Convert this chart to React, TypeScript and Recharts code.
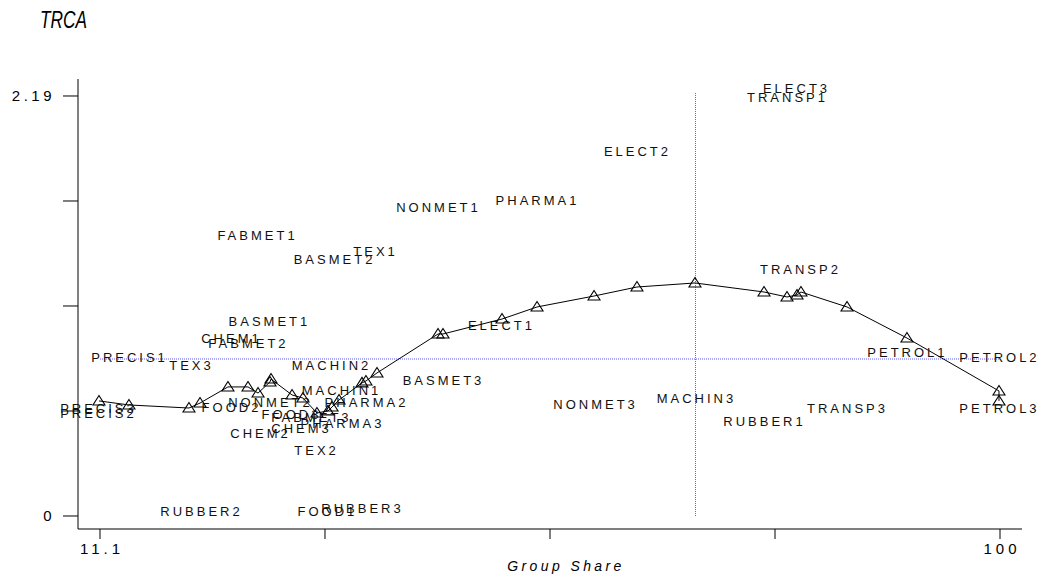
import React from 'react';
import { ScatterChart, Scatter, XAxis, YAxis, ReferenceLine, Label } from 'recharts';

// Curve (fitted line with triangle markers)
const curveX = [11.0, 13.96, 19.89, 20.98, 23.74, 25.72, 26.71, 27.89, 27.99, 30.07, 31.15, 32.53, 33.62, 34.02, 34.71, 36.98, 37.37, 38.46, 44.49, 44.98, 50.81, 54.27, 59.9, 64.14, 69.87, 76.69, 78.96, 79.95, 80.34, 84.89, 90.81, 99.9, 99.9];
const curveY = [0.6, 0.579, 0.563, 0.589, 0.673, 0.673, 0.641, 0.699, 0.714, 0.631, 0.615, 0.537, 0.548, 0.568, 0.605, 0.694, 0.704, 0.746, 0.949, 0.949, 1.027, 1.09, 1.147, 1.194, 1.215, 1.168, 1.142, 1.152, 1.168, 1.09, 0.928, 0.652, 0.6];

// Point labels
const labelNames = ['PRECIS1', 'TEX3', 'CHEM1', 'FABMET2', 'BASMET1', 'FABMET1', 'BASMET2', 'TEX1', 'NONMET1', 'PHARMA1', 'ELECT2', 'ELECT3', 'TRANSP1', 'TRANSP2', 'ELECT1', 'MACHIN2', 'BASMET3', 'MACHIN1', 'NONMET2', 'PHARMA2', 'FOOD2', 'PRECIS3', 'PRECIS2', 'FOOD3', 'FABMET3', 'PHARMA3', 'CHEM3', 'CHEM2', 'TEX2', 'NONMET3', 'MACHIN3', 'RUBBER1', 'TRANSP3', 'PETROL1', 'PETROL2', 'PETROL3', 'RUBBER2', 'FOOD1', 'RUBBER3'];
const labelX = [13.87, 19.99, 23.94, 25.62, 27.69, 26.51, 34.12, 38.17, 44.39, 54.17, 64.04, 79.75, 78.86, 80.14, 50.61, 33.82, 44.88, 34.81, 27.79, 37.28, 23.94, 10.8, 10.8, 29.87, 31.84, 34.91, 30.86, 26.81, 32.34, 59.9, 69.87, 76.59, 84.79, 90.71, 99.8, 99.8, 20.98, 33.42, 36.88];
const labelY = [0.829, 0.787, 0.928, 0.897, 1.012, 1.46, 1.34, 1.377, 1.611, 1.643, 1.898, 2.227, 2.18, 1.283, 0.991, 0.787, 0.709, 0.652, 0.594, 0.594, 0.568, 0.563, 0.537, 0.527, 0.511, 0.48, 0.454, 0.428, 0.344, 0.579, 0.615, 0.495, 0.563, 0.855, 0.829, 0.558, 0.026, 0.026, 0.037];

// Axes
const xTicks = [11.1, 33.325, 55.55, 77.775, 100];
const xTickLabels = ['11.1', '', '', '', '100'];
const yTicks = [0, 0.5475, 1.095, 1.6425, 2.19];
const yTickLabels = ['0', '', '', '', '2.19'];

// Reference cross
const refX = 69.92;
const refY = 0.8186;

const curveData = curveX.map((x, i) => ({ x, y: curveY[i] }));
const labelData = labelNames.map((name, i) => ({ name, x: labelX[i], y: labelY[i] }));

const FONT = "'Liberation Sans', Arial, Helvetica, sans-serif";

const Triangle = (props: any) => {
  const { cx, cy } = props;
  if (cx == null || cy == null) return null;
  const d = `M${cx},${cy - 5.5} L${cx + 6},${cy + 4} L${cx - 6},${cy + 4} Z`;
  return <path d={d} fill="none" stroke="#000" strokeWidth={1.1} />;
};

const PointLabel = (props: any) => {
  const { cx, cy, payload } = props;
  if (cx == null || cy == null) return null;
  return (
    <text
      x={cx}
      y={cy}
      dx={1.5}
      textAnchor="middle"
      dominantBaseline="central"
      fontFamily={FONT}
      fontSize={13}
      letterSpacing={3}
      fill="#111"
    >
      {payload.name}
    </text>
  );
};

const YTick = (props: any) => {
  const { x, y, payload } = props;
  const idx = yTicks.indexOf(payload.value);
  const txt = idx >= 0 ? yTickLabels[idx] : '';
  return (
    <text x={x + 4} y={y} textAnchor="end" dominantBaseline="central" fontFamily={FONT} fontSize={15} letterSpacing={3.5} fill="#000">
      {txt}
    </text>
  );
};

const XTick = (props: any) => {
  const { x, y, payload } = props;
  const idx = xTicks.indexOf(payload.value);
  const txt = idx >= 0 ? xTickLabels[idx] : '';
  return (
    <text x={x + 2} y={y} dy="0.72em" textAnchor="middle" fontFamily={FONT} fontSize={15} letterSpacing={4} fill="#000">
      {txt}
    </text>
  );
};

const AxisTitle = (props: any) => {
  const vb = props.viewBox || {};
  const cx = (vb.x || 0) + (vb.width || 0) / 2 + 16;
  const y = (vb.y || 0) + (vb.height || 0) - 10;
  return (
    <text x={cx} y={y} textAnchor="middle" fontFamily={FONT} fontStyle="italic" fontSize={14} letterSpacing={3.4} fill="#000">
      Group Share
    </text>
  );
};

export default function App() {
  return (
    <div style={{ position: 'absolute', left: 0, top: 0, width: 1040, height: 581, background: '#fff' }}>
      <div
        style={{
          position: 'absolute',
          left: 40,
          top: 8,
          fontFamily: FONT,
          fontStyle: 'italic',
          fontSize: 24,
          lineHeight: '24px',
          transform: 'scaleX(0.72)',
          transformOrigin: 'left top',
          color: '#000',
          whiteSpace: 'nowrap',
        }}
      >
        TRCA
      </div>
      <ScatterChart width={1040} height={581} margin={{ top: 79, right: 18, bottom: 0, left: 0 }}>
        <XAxis
          type="number"
          dataKey="x"
          domain={[8.927, 102.173]}
          ticks={xTicks}
          height={52}
          tickSize={10}
          tickMargin={4}
          tick={<XTick />}
          axisLine={{ stroke: '#000', strokeWidth: 1 }}
          tickLine={{ stroke: '#000', strokeWidth: 1 }}
        >
          <Label content={<AxisTitle />} />
        </XAxis>
        <YAxis
          type="number"
          dataKey="y"
          domain={[-0.06779, 2.2786]}
          ticks={yTicks}
          width={78}
          tickSize={15}
          tickMargin={12}
          tick={<YTick />}
          axisLine={{ stroke: '#000', strokeWidth: 1 }}
          tickLine={{ stroke: '#000', strokeWidth: 1 }}
        />
        <ReferenceLine
          segment={[{ x: 11.1, y: refY }, { x: 100, y: refY }]}
          stroke="#5a5aff"
          strokeDasharray="1 1"
          strokeWidth={1}
        />
        <ReferenceLine
          segment={[{ x: refX, y: 0 }, { x: refX, y: 2.2109 }]}
          stroke="#5a5aff"
          strokeDasharray="1 1"
          strokeWidth={1}
        />
        <Scatter
          data={curveData}
          line={{ stroke: '#000', strokeWidth: 1 }}
          lineJointType="linear"
          shape={<Triangle />}
          isAnimationActive={false}
        />
        <Scatter data={labelData} shape={<PointLabel />} isAnimationActive={false} />
      </ScatterChart>
    </div>
  );
}
